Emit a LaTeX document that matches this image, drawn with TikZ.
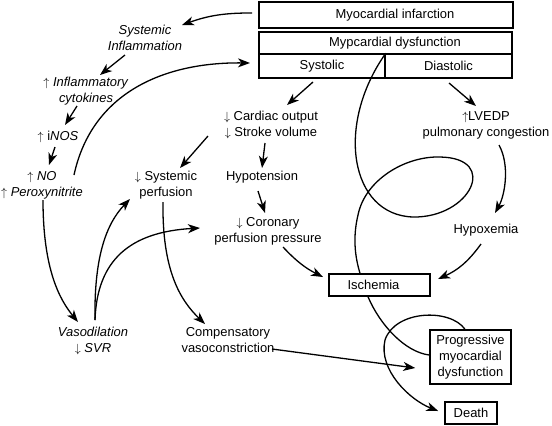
\documentclass[tikz,border=0pt]{standalone}
\usepackage{fontspec}
\setmainfont{Liberation Sans}
\usetikzlibrary{arrows.meta,calc}
\newcommand{\dfont}{\fontsize{13}{16}\selectfont}
\newcommand{\upa}{$\uparrow$}
\newcommand{\dna}{$\downarrow$}
\begin{document}
\begin{tikzpicture}[x=1bp,y=-1bp,
  box/.style={draw, line width=1.5bp, inner sep=0pt, align=center, font=\dfont},
  txt/.style={inner sep=0pt, align=center, font=\dfont},
  itxt/.style={inner sep=0pt, align=center, font=\dfont\itshape},
  arr/.style={line width=1.3bp, -{Stealth[length=12bp,width=9bp,inset=3.5bp]}},
  ln/.style={line width=1.3bp}]
\useasboundingbox (0,0) rectangle (552,425);

% boxes
\node[box, minimum width=254bp, minimum height=26bp] (mibox) at (386,15) {};
\node[txt] (mitxt) at (395,15) {Myocardial infarction};
\node[box, minimum width=253bp, minimum height=22bp] (mdbox) at (385.5,43) {};
\node[txt] (mdtxt) at (395,43) {Mypcardial dysfunction};
\node[box, minimum width=126bp, minimum height=24bp] (sys) at (322,66) {Systolic};
\node[box, minimum width=127bp, minimum height=24bp] (dia) at (448.5,66) {Diastolic};
\node[box, minimum width=101bp, minimum height=22bp] (isch) at (379.5,285) {Ischemia\hspace*{12bp}};
\node[box, minimum width=81bp, minimum height=54bp] (prog) at (470.5,357) {Progressive\\myocardial\\dysfunction};
\node[box, minimum width=52bp, minimum height=22bp] (death) at (471,413) {Death};

% text nodes
\node[itxt] (si) at (145,37.5) {Systemic\\Inflammation};
\node[txt] (cyt) at (86,91) {\upa{} \textit{Inflammatory}\\\textit{cytokines}};
\node[txt] (inos) at (58,137) {\upa{} i\textit{NOS}};
\node[txt] (no) at (42,185) {\upa{} \textit{NO}\\\upa{} \textit{Peroxynitrite}};
\node[txt] (sp) at (166,185) {\dna{} Systemic\\perfusion};
\node[txt] (co) at (271,125) {\dna{} Cardiac output\\\dna{} Stroke volume};
\node[txt] (hyp) at (262,177) {Hypotension};
\node[txt] (cor) at (268,231) {\dna{} Coronary\\perfusion pressure};
\node[txt] (lv) at (486,125) {\upa{}LVEDP\\pulmonary congestion};
\node[txt] (hx) at (486,230) {Hypoxemia};
\node[txt] (vaso) at (93,341) {\textit{Vasodilation}\\\dna{} \textit{SVR}};
\node[txt] (comp) at (228,340) {Compensatory\\vasoconstriction};

% connectors
\draw[arr] ($(mibox)+(-134,-2)$) to[bend right=10] ($(si)+(37,-12.5)$);
\draw[arr] ($(si)+(-20,17.5)$) -- ($(cyt)+(14,-16)$);
\draw[arr] ($(cyt)+(-9,15)$) -- ($(inos)+(7,-12)$);
\draw[arr] ($(inos)+(-3,10)$) -- ($(no)+(7,-20)$);
\draw[arr] ($(no)+(32,-10)$) .. controls (92,92) and (165,62) .. ($(sys)+(-72,-3)$);
\draw[arr] ($(no)+(1,15)$) .. controls (43,270) and (60,300) .. ($(vaso)+(-15,-19)$);
\draw[arr] ($(vaso)+(2,-21)$) .. controls (94,260) and (105,225) .. ($(sp)+(-36,14)$);
\draw[arr] ($(vaso)+(2,-21)$) .. controls (97,260) and (130,232) .. ($(cor)+(-68,-3)$);
\draw[arr] ($(sp)+(-3,17)$) .. controls (162,270) and (180,300) .. ($(comp)+(-23,-16)$);
\draw[arr] ($(co)+(-63,11)$) -- ($(sp)+(14,-17)$);
\draw[arr] ($(sys)+(-9,16)$) -- ($(co)+(16,-20)$);
\draw[arr] ($(co)+(-6,18)$) -- ($(hyp)+(0,-9)$);
\draw[arr] ($(hyp)+(-4,14)$) -- ($(cor)+(-3,-18)$);
\draw[arr] ($(cor)+(15,16)$) to[bend right=10] ($(isch)+(-56.5,-8)$);
\draw[arr] ($(dia)+(0.5,17)$) -- ($(lv)+(-10,-19)$);
\draw[arr] ($(lv)+(13,20)$) .. controls (510,165) and (505,195) .. ($(hx)+(9,-17)$);
\draw[arr] ($(hx)+(-5,14)$) to[bend left=15] ($(isch)+(58.5,-6)$);
\draw[arr] ($(comp)+(44,9)$) -- ($(prog.west)+(-14,11)$);

% big loop from the systolic/diastolic divider to ischemia
\draw[ln] (sys.north east) .. controls (335,125) and (350,215) .. (413,217)
  .. controls (470,218) and (500,158) .. (440,157)
  .. controls (405,156) and (365,180) .. (358,215)
  .. controls (352,240) and (356,260) .. ($(isch.north)+(-19.5,0)$);
\draw[ln] ($(isch.south)+(-11.5,0)$) .. controls (380,325) and (405,352) .. ($(prog.west)+(0,-2)$);
\draw[arr] ($(prog.north)+(-5.5,0)$) .. controls (450,308) and (395,310) .. (385,340)
  .. controls (378,370) and (410,400) .. ($(death.west)+(-6,-2)$);
\end{tikzpicture}
\end{document}
